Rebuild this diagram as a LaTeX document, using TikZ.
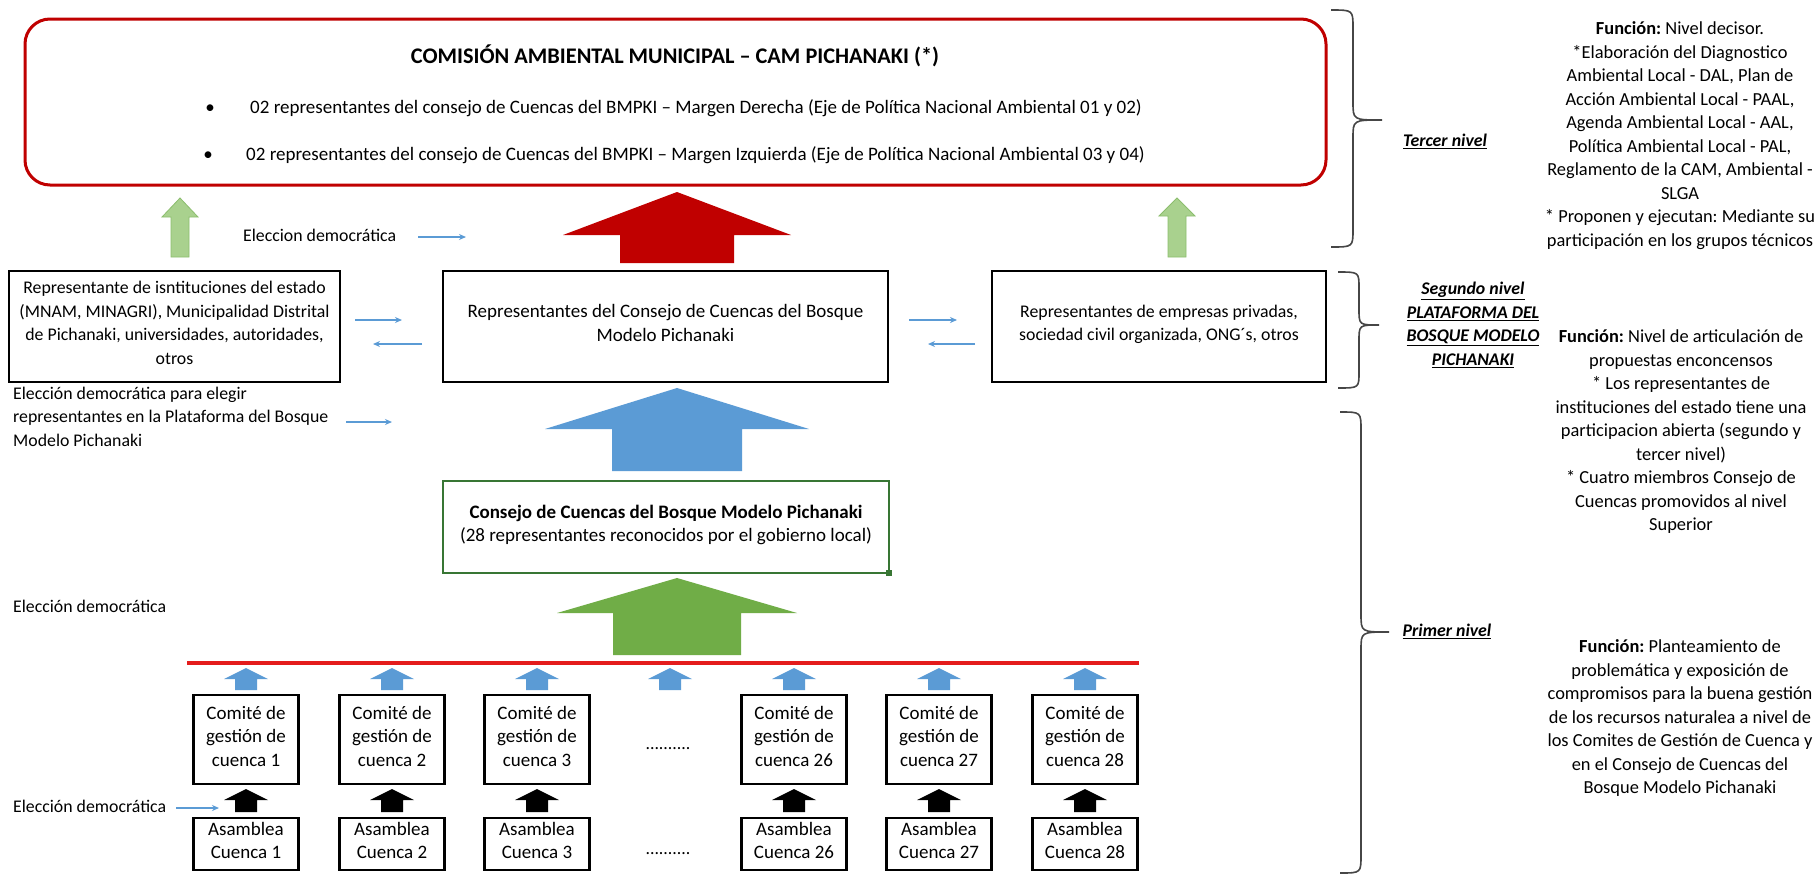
\documentclass[tikz,border=0pt]{standalone}
\usepackage{fontspec}
\setmainfont{Carlito}
\usetikzlibrary{arrows.meta}
\frenchspacing
\definecolor{camred}{RGB}{192,0,0}
\definecolor{lgreen}{RGB}{169,209,142}
\definecolor{lgreenedge}{RGB}{140,190,110}
\definecolor{ablue}{RGB}{91,155,213}
\definecolor{agreen}{RGB}{112,173,71}
\definecolor{boxgreen}{RGB}{56,118,52}
\definecolor{linered}{RGB}{228,28,28}
\definecolor{bracegray}{RGB}{70,70,70}
\newcommand\bodyfont{\fontsize{17.8}{23.5}\selectfont}
\newcommand\bigbodyfont{\fontsize{19}{23.5}\selectfont}
\newcommand\funcfont{\fontsize{18.4}{23.5}\selectfont}
\newcommand\titlefont{\fontsize{22.3}{27}\selectfont\bfseries}
% block arrow pointing up: style, cx, apex y, shoulder y, bottom y, head half width, shaft half width
\newcommand\blockup[7]{%
  \path[#1] (#2,#3) -- ({#2+#6},#4) -- ({#2+#7},#4) -- ({#2+#7},#5) -- ({#2-#7},#5) -- ({#2-#7},#4) -- ({#2-#6},#4) -- cycle;}
% right curly brace: end x, spine x, tip x, top y, tip y, bottom y, radius
\newcommand\levelbrace[7]{%
  \draw[bracestyle] (#1,#4) .. controls (#2,#4) .. (#2,{#4+#7}) -- (#2,{#5-#7}) .. controls (#2,#5) .. (#3,#5) .. controls (#2,#5) .. (#2,{#5+#7}) -- (#2,{#6-#7}) .. controls (#2,#6) .. (#1,#6);}
\begin{document}
\begin{tikzpicture}[x=1pt,y=-1pt,
  every node/.style={inner sep=0pt, font=\bodyfont, text=black},
  txt/.style={align=center, execute at begin node=\strut, execute at end node=\strut},
  box/.style={txt, draw=black, line width=2.5pt},
  bigbox/.style={box, font=\bigbodyfont},
  lbl/.style={txt, font=\bodyfont\bfseries\itshape},
  functxt/.style={txt, font=\funcfont},
  thinarr/.style={draw=ablue, line width=1.2pt, -{Stealth[length=7pt,width=6pt]}},
  bracestyle/.style={draw=bracegray, line width=1.6pt},
  lgreenarrow/.style={fill=lgreen, draw=lgreenedge, line width=0.8pt},
  redarrow/.style={fill=camred},
  bluearrow/.style={fill=ablue},
  greenarrow/.style={fill=agreen},
  blackarrow/.style={fill=black}]
\fill[white] (0,0) rectangle (1816,884);
\useasboundingbox (0,0) rectangle (1816,884);

% ---------- third level ----------
\node[draw=camred, line width=3pt, rounded corners=25pt, minimum width=1301pt, minimum height=166pt] (cam) at (675.5,102) {};
\node[txt, font=\titlefont] (camtitle) at (675,58) {COMISIÓN AMBIENTAL MUNICIPAL – CAM PICHANAKI (*)};
\node[txt, font=\bigbodyfont] (bul1) at (210,109) {•};
\node[txt, font=\bigbodyfont, anchor=west] (item1) at (250,109) {02 representantes del consejo de Cuencas del BMPKI – Margen Derecha (Eje de Política Nacional Ambiental 01 y 02)};
\node[txt, font=\bigbodyfont] (bul2) at (208,156) {•};
\node[txt, font=\bigbodyfont, anchor=west] (item2) at (246,156) {02 representantes del consejo de Cuencas del BMPKI – Margen Izquierda (Eje de Política Nacional Ambiental 03 y 04)};

\blockup{lgreenarrow}{180}{198}{217}{257}{18}{9}
\blockup{lgreenarrow}{1177}{198}{216}{257}{18}{9}
\blockup{redarrow}{677}{192}{235}{263}{114}{57}

\node[txt, anchor=west] (elec1) at (243,237) {Eleccion democrática};
\coordinate (e1a) at (418,237);
\coordinate (e1b) at (466,237);
\draw[thinarr] (e1a) -- (e1b);

% ---------- second level ----------
\node[box, minimum width=331pt, minimum height=111pt] (inst) at (174.5,326.5) {Representante de isntituciones del estado\\(MNAM, MINAGRI), Municipalidad Distrital\\de Pichanaki, universidades, autoridades,\\otros};
\node[bigbox, minimum width=445pt, minimum height=111pt] (mid) at (665.5,326.5) {Representantes del Consejo de Cuencas del Bosque\\Modelo Pichanaki};
\node[box, minimum width=334pt, minimum height=111pt] (priv) at (1159,326.5) {Representantes de empresas privadas,\\sociedad civil organizada, ONG´s, otros};

\coordinate (a1s) at (355,320); \coordinate (a1e) at (402,320);
\coordinate (a2s) at (422,344); \coordinate (a2e) at (373,344);
\coordinate (a3s) at (909,320); \coordinate (a3e) at (957,320);
\coordinate (a4s) at (975,344); \coordinate (a4e) at (928,344);
\draw[thinarr] (a1s) -- (a1e);
\draw[thinarr] (a2s) -- (a2e);
\draw[thinarr] (a3s) -- (a3e);
\draw[thinarr] (a4s) -- (a4e);

\node[txt, align=left, anchor=west] (elec2) at (13,420) {Elección democrática para elegir\\representantes en la Plataforma del Bosque\\Modelo Pichanaki};
\coordinate (e2a) at (346,422);
\coordinate (e2b) at (392,422);
\draw[thinarr] (e2a) -- (e2b);

\blockup{bluearrow}{677}{388}{429}{471}{132}{65}

% ---------- first level ----------
\node[bigbox, draw=boxgreen, line width=2pt, minimum width=446pt, minimum height=92pt] (consejo) at (666,527) {\textbf{Consejo de Cuencas del Bosque Modelo Pichanaki}\\(28 representantes reconocidos por el gobierno local)};
\fill[boxgreen] (886,570) rectangle (892,576);

\node[txt, anchor=west] (elec3) at (13,608) {Elección democrática};

\blockup{greenarrow}{677}{578}{613}{655}{120}{64}

\coordinate (rl1) at (187,663);
\coordinate (rl2) at (1139,663);
\draw[linered, line width=3.5pt] (rl1) -- (rl2);

\foreach \c/\n in {246/1, 392/2, 537/3, 794/26, 939/27, 1085/28} {
  \node[bigbox, minimum width=105pt, minimum height=89pt] (com\n) at (\c,739.5) {Comité de\\gestión de\\cuenca \n};
  \node[bigbox, minimum width=105pt, minimum height=52pt] (asa\n) at (\c,844) {Asamblea\\Cuenca \n};
  \blockup{bluearrow}{\c}{668}{679}{690}{22}{11}
  \blockup{blackarrow}{\c}{789}{800}{812}{22}{11}
}
\blockup{bluearrow}{670}{668}{679}{690}{22}{11}
\node[txt] (dots1) at (668,745) {..........};
\node[txt] (dots2) at (668,850) {..........};

\node[txt, anchor=west] (elec4) at (13,808) {Elección democrática};
\coordinate (e4a) at (176,808);
\coordinate (e4b) at (219,808);
\draw[thinarr] (e4a) -- (e4b);

% ---------- braces and labels ----------
\levelbrace{1331}{1353}{1382}{10}{120}{247}{18}
\levelbrace{1338}{1359}{1379}{272}{325}{388}{16}
\levelbrace{1340}{1361}{1389}{412}{632}{873}{18}

\node[lbl] (l3) at (1445,142) {\underline{Tercer nivel}};
\node[lbl] (l2) at (1473,327.5) {\underline{Segundo nivel}\\\underline{PLATAFORMA DEL}\\\underline{BOSQUE MODELO}\\\underline{PICHANAKI}};
\node[lbl] (l1) at (1447,632) {\underline{Primer nivel}};

\node[functxt] (f3) at (1680,137.5) {\textbf{Función:} Nivel decisor.\\{*}Elaboración del Diagnostico\\Ambiental Local - DAL, Plan de\\Acción Ambiental Local - PAAL,\\Agenda Ambiental Local - AAL,\\Política Ambiental Local - PAL,\\Reglamento de la CAM, Ambiental -\\SLGA\\{*} Proponen y ejecutan: Mediante su\\participación en los grupos técnicos};
\node[functxt] (f2) at (1681,434) {\textbf{Función:} Nivel de articulación de\\propuestas enconcensos\\{*} Los representantes de\\instituciones del estado tiene una\\participacion abierta (segundo y\\tercer nivel)\\{*} Cuatro miembros Consejo de\\Cuencas promovidos al nivel\\Superior};
\node[functxt] (f1) at (1680,720.5) {\textbf{Función:} Planteamiento de\\problemática y exposición de\\compromisos para la buena gestión\\de los recursos naturalea a nivel de\\los Comites de Gestión de Cuenca y\\en el Consejo de Cuencas del\\Bosque Modelo Pichanaki};
\end{tikzpicture}
\end{document}
